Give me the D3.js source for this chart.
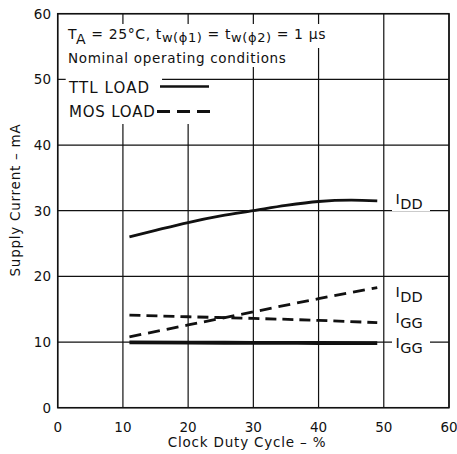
<!DOCTYPE html>
<html>
<head>
<meta charset="utf-8">
<script src="https://cdn.jsdelivr.net/npm/d3@7"></script>
<style>
  html, body { margin: 0; padding: 0; background: #fff; }
  svg { display: block; }
  text { font-family: "DejaVu Sans", "Liberation Sans", sans-serif; fill: #111; }
</style>
</head>
<body>
<svg id="chart" width="457" height="454"></svg>
<script>
// ---- data ----
const xTicks = [0, 10, 20, 30, 40, 50, 60];
const yTicks = [0, 10, 20, 30, 40, 50, 60];

const ttlIddX = [11, 15, 20, 25, 30, 35, 40, 45, 49];
const ttlIddY = [26.0, 27.0, 28.2, 29.2, 30.0, 30.8, 31.4, 31.6, 31.5];

const ttlIggX = [11, 20, 30, 40, 49];
const ttlIggY = [9.95, 9.9, 9.88, 9.85, 9.82];

const mosIddX = [11, 20, 30, 40, 49];
const mosIddY = [10.8, 12.6, 14.6, 16.6, 18.3];

const mosIggX = [11, 20, 30, 40, 49];
const mosIggY = [14.1, 13.85, 13.6, 13.3, 12.95];

const curveLabels = ["DD", "DD", "GG", "GG"];
const curveLabelY = [31.0, 16.85, 12.9, 9.1];

const titleLine2 = "Nominal operating conditions";
const legendNames = ["TTL LOAD", "MOS LOAD"];
const xTitle = "Clock Duty Cycle \u2013 %";
const yTitle = "Supply Current \u2013 mA";

// ---- layout ----
const svg = d3.select("#chart");
const L = 57.7, R = 449, T = 13.7, B = 407.7;
const x = d3.scaleLinear().domain([0, 60]).range([L, R]);
const y = d3.scaleLinear().domain([0, 60]).range([B, T]);
const ink = "#111";

// vertical grid
svg.append("g").selectAll("line").data(xTicks).join("line")
  .attr("x1", d => x(d)).attr("x2", d => x(d))
  .attr("y1", T).attr("y2", B)
  .attr("stroke", ink).attr("stroke-width", 1.2);

// horizontal grid (except 50 which is partially hidden by legend)
svg.append("g").selectAll("line").data(yTicks.filter(d => d !== 50)).join("line")
  .attr("x1", L).attr("x2", R)
  .attr("y1", d => y(d)).attr("y2", d => y(d))
  .attr("stroke", ink).attr("stroke-width", 1.2);

// white areas behind annotation block
svg.append("rect").attr("x", L + 2).attr("y", 24).attr("width", 272).attr("height", 24).attr("fill", "#fff");
svg.append("rect").attr("x", L + 2).attr("y", 47).attr("width", 235).attr("height", 20).attr("fill", "#fff");
svg.append("rect").attr("x", L + 2).attr("y", 66).attr("width", 156).attr("height", 58).attr("fill", "#fff");

// y=50 grid line (visible right of legend text, plus stub at axis)
svg.append("line")
  .attr("x1", x(16)).attr("x2", R)
  .attr("y1", y(50)).attr("y2", y(50))
  .attr("stroke", ink).attr("stroke-width", 1.2);
svg.append("line")
  .attr("x1", L).attr("x2", L + 8)
  .attr("y1", y(50)).attr("y2", y(50))
  .attr("stroke", ink).attr("stroke-width", 1.2);

// frame
svg.append("rect").attr("x", L).attr("y", T).attr("width", R - L).attr("height", B - T)
  .attr("fill", "none").attr("stroke", ink).attr("stroke-width", 1.5);

// tick labels
svg.append("g").selectAll("text").data(yTicks).join("text")
  .attr("x", 51).attr("y", d => y(d)).attr("dy", "0.36em")
  .attr("text-anchor", "end").attr("font-size", 13.5).text(d => d);
svg.append("g").selectAll("text").data(xTicks).join("text")
  .attr("x", d => x(d)).attr("y", 431.5)
  .attr("text-anchor", "middle").attr("font-size", 13.5).text(d => d);

// axis titles
svg.append("text").attr("x", 247).attr("y", 447)
  .attr("text-anchor", "middle").attr("font-size", 13.5).attr("letter-spacing", 0.8)
  .text(xTitle);
svg.append("text").attr("transform", "translate(20,200) rotate(-90)")
  .attr("text-anchor", "middle").attr("font-size", 13.5).attr("letter-spacing", 0.75)
  .text(yTitle);

// title line 1
const t1 = svg.append("text").attr("x", 68).attr("y", 39).attr("font-size", 14).attr("letter-spacing", 0.6);
t1.append("tspan").text("T");
t1.append("tspan").attr("dy", 5).text("A");
t1.append("tspan").attr("dy", -5).text(" = 25\u00B0C, t");
t1.append("tspan").attr("dy", 3).attr("font-size", 13).text("w(\u03D51)");
t1.append("tspan").attr("dy", -3).text(" = t");
t1.append("tspan").attr("dy", 3).attr("font-size", 13).text("w(\u03D52)");
t1.append("tspan").attr("dy", -3).text(" = 1 \u03BCs");

// title line 2
svg.append("text").attr("x", 68).attr("y", 63).attr("font-size", 13.5).attr("letter-spacing", 0.7)
  .text(titleLine2);

// legend
svg.append("text").attr("x", 69).attr("y", 93).attr("font-size", 15).attr("letter-spacing", 1.1).text(legendNames[0]);
svg.append("text").attr("x", 69).attr("y", 116.5).attr("font-size", 15).attr("letter-spacing", 0.8).text(legendNames[1]);
svg.append("line").attr("x1", 160).attr("x2", 209).attr("y1", 86.5).attr("y2", 86.5)
  .attr("stroke", ink).attr("stroke-width", 2.5);
svg.append("line").attr("x1", 157).attr("x2", 210).attr("y1", 111.5).attr("y2", 111.5)
  .attr("stroke", ink).attr("stroke-width", 2.8).attr("stroke-dasharray", "13,7");

// curves
const line = d3.line().x(d => x(d[0])).y(d => y(d[1])).curve(d3.curveMonotoneX);
function draw(xs, ys, w, dash) {
  svg.append("path").datum(d3.zip(xs, ys)).attr("d", line)
    .attr("fill", "none").attr("stroke", ink).attr("stroke-width", w)
    .attr("stroke-dasharray", dash || null);
}
draw(ttlIddX, ttlIddY, 2.8);
draw(ttlIggX, ttlIggY, 3.8);
draw(mosIddX, mosIddY, 2.8, "12,7");
draw(mosIggX, mosIggY, 2.8, "11,6");

// curve labels with white backing
curveLabelY.forEach((v, i) => {
  svg.append("rect").attr("x", 392).attr("y", y(v) - 12).attr("width", 38).attr("height", 19).attr("fill", "#fff");
  const t = svg.append("text").attr("x", 395.5).attr("y", y(v)).attr("font-size", 14.5);
  t.append("tspan").text("I");
  t.append("tspan").attr("dy", 5.3).attr("dx", 0.5).text(curveLabels[i]);
});
</script>
</body>
</html>
